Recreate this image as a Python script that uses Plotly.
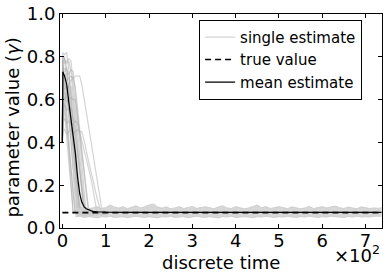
import plotly.graph_objects as go

# ---------------- data ----------------
T_EARLY = [0, 1, 5, 10, 15, 20, 25, 30, 35, 40, 45, 50, 55, 60, 65, 70, 80, 90, 100]

SINGLE_RUNS = [
    [0.40, 0.82, 0.81, 0.82, 0.74, 0.61, 0.47, 0.34, 0.20, 0.07, 0.08, 0.06, 0.07, 0.08, 0.07, 0.06, 0.08, 0.07, 0.07],
    [0.40, 0.80, 0.80, 0.66, 0.53, 0.39, 0.26, 0.12, 0.07, 0.06, 0.08, 0.07, 0.07, 0.06, 0.08, 0.07, 0.07, 0.06, 0.08],
    [0.40, 0.78, 0.79, 0.77, 0.78, 0.73, 0.61, 0.50, 0.38, 0.27, 0.15, 0.07, 0.08, 0.06, 0.07, 0.07, 0.08, 0.07, 0.06],
    [0.40, 0.76, 0.68, 0.55, 0.42, 0.28, 0.15, 0.07, 0.06, 0.08, 0.07, 0.07, 0.06, 0.08, 0.07, 0.07, 0.06, 0.08, 0.07],
    [0.40, 0.75, 0.74, 0.75, 0.63, 0.51, 0.39, 0.26, 0.14, 0.07, 0.06, 0.08, 0.07, 0.07, 0.06, 0.08, 0.07, 0.07, 0.08],
    [0.40, 0.74, 0.73, 0.74, 0.72, 0.74, 0.73, 0.63, 0.52, 0.41, 0.30, 0.18, 0.07, 0.08, 0.06, 0.07, 0.07, 0.08, 0.07],
    [0.40, 0.72, 0.71, 0.72, 0.72, 0.61, 0.50, 0.40, 0.29, 0.18, 0.07, 0.08, 0.06, 0.07, 0.07, 0.08, 0.07, 0.06, 0.07],
    [0.40, 0.70, 0.64, 0.50, 0.36, 0.21, 0.07, 0.08, 0.07, 0.06, 0.07, 0.08, 0.07, 0.07, 0.06, 0.08, 0.07, 0.07, 0.06],
    [0.40, 0.70, 0.71, 0.69, 0.70, 0.71, 0.70, 0.66, 0.56, 0.47, 0.37, 0.27, 0.17, 0.07, 0.08, 0.06, 0.07, 0.08, 0.07],
    [0.40, 0.68, 0.69, 0.63, 0.52, 0.41, 0.30, 0.18, 0.07, 0.08, 0.07, 0.06, 0.07, 0.08, 0.07, 0.07, 0.06, 0.08, 0.07],
    [0.40, 0.66, 0.67, 0.65, 0.66, 0.66, 0.56, 0.46, 0.37, 0.27, 0.17, 0.07, 0.08, 0.07, 0.06, 0.07, 0.08, 0.07, 0.07],
    [0.40, 0.64, 0.54, 0.42, 0.30, 0.17, 0.07, 0.08, 0.06, 0.07, 0.07, 0.08, 0.07, 0.06, 0.07, 0.08, 0.07, 0.07, 0.06],
    [0.40, 0.62, 0.63, 0.61, 0.57, 0.47, 0.38, 0.29, 0.20, 0.11, 0.07, 0.06, 0.08, 0.07, 0.07, 0.06, 0.08, 0.07, 0.07],
    [0.40, 0.60, 0.61, 0.59, 0.60, 0.61, 0.60, 0.60, 0.52, 0.43, 0.35, 0.27, 0.19, 0.10, 0.07, 0.08, 0.07, 0.06, 0.07],
    [0.40, 0.58, 0.58, 0.48, 0.38, 0.27, 0.17, 0.07, 0.08, 0.07, 0.06, 0.07, 0.08, 0.07, 0.07, 0.06, 0.07, 0.08, 0.07],
    [0.40, 0.56, 0.57, 0.55, 0.56, 0.56, 0.51, 0.43, 0.35, 0.27, 0.19, 0.10, 0.07, 0.08, 0.06, 0.07, 0.07, 0.08, 0.07],
    [0.40, 0.55, 0.60, 0.64, 0.67, 0.69, 0.70, 0.71, 0.71, 0.71, 0.67, 0.61, 0.55, 0.48, 0.42, 0.36, 0.23, 0.10, 0.07],
    [0.40, 0.50, 0.51, 0.49, 0.50, 0.48, 0.49, 0.50, 0.49, 0.45, 0.41, 0.36, 0.32, 0.28, 0.24, 0.19, 0.07, 0.08, 0.07],
    [0.40, 0.45, 0.46, 0.44, 0.45, 0.46, 0.44, 0.45, 0.46, 0.45, 0.45, 0.41, 0.36, 0.32, 0.27, 0.23, 0.14, 0.07, 0.07],
    [0.40, 0.80, 0.79, 0.75, 0.62, 0.49, 0.36, 0.23, 0.10, 0.07, 0.06, 0.08, 0.07, 0.07, 0.08, 0.06, 0.07, 0.07, 0.08],
    [0.40, 0.78, 0.77, 0.78, 0.79, 0.78, 0.67, 0.56, 0.45, 0.34, 0.23, 0.12, 0.07, 0.06, 0.07, 0.08, 0.07, 0.07, 0.06],
    [0.40, 0.66, 0.65, 0.66, 0.66, 0.54, 0.42, 0.31, 0.19, 0.07, 0.08, 0.07, 0.06, 0.07, 0.07, 0.08, 0.07, 0.06, 0.07],
]

TAIL_T = list(range(30, 731, 10)) + [737]
TAIL_UPPER = [
    0.095, 0.092, 0.098, 0.090, 0.094, 0.100, 0.091, 0.095, 0.108, 0.098,
    0.093, 0.100, 0.090, 0.097, 0.104, 0.094, 0.099, 0.108, 0.112, 0.098,
    0.093, 0.099, 0.090, 0.094, 0.100, 0.091, 0.095, 0.101, 0.092, 0.094,
    0.099, 0.095, 0.090, 0.098, 0.104, 0.094, 0.091, 0.100, 0.095, 0.090,
    0.094, 0.099, 0.107, 0.095, 0.100, 0.091, 0.094, 0.100, 0.095, 0.091,
    0.099, 0.095, 0.090, 0.094, 0.101, 0.091, 0.095, 0.100, 0.094, 0.099,
    0.103, 0.095, 0.091, 0.098, 0.094, 0.090, 0.099, 0.095, 0.091, 0.094,
    0.092, 0.095,
]
TAIL_LOWER = [
    0.052, 0.055, 0.049, 0.053, 0.051, 0.047, 0.053, 0.051, 0.055, 0.049,
    0.051, 0.053, 0.048, 0.051, 0.055, 0.051, 0.049, 0.053, 0.051, 0.047,
    0.053, 0.051, 0.055, 0.049, 0.051, 0.053, 0.048, 0.051, 0.055, 0.051,
    0.049, 0.053, 0.051, 0.047, 0.053, 0.051, 0.055, 0.049, 0.051, 0.053,
    0.051, 0.048, 0.053, 0.051, 0.055, 0.051, 0.049, 0.053, 0.051, 0.054,
    0.051, 0.049, 0.053, 0.051, 0.055, 0.051, 0.049, 0.053, 0.051, 0.055,
    0.053, 0.051, 0.049, 0.054, 0.051, 0.055, 0.051, 0.053, 0.051, 0.055,
    0.053, 0.055,
]

MEAN_T = [0, 1, 5, 10, 15, 20, 25, 30, 35, 40, 45, 50, 55, 60, 65, 70, 80, 90, 100,
          150, 200, 300, 400, 500, 600, 700, 737]
MEAN_V = [0.40, 0.73, 0.71, 0.67, 0.585, 0.51, 0.43, 0.35, 0.24, 0.16, 0.12, 0.10,
          0.09, 0.085, 0.081, 0.078, 0.076, 0.075, 0.074, 0.073, 0.073, 0.073,
          0.073, 0.073, 0.073, 0.073, 0.073]

TRUE_T = [0, 737]
TRUE_V = [0.072, 0.072]

X_TICKS = [0, 100, 200, 300, 400, 500, 600, 700]
X_TICK_TEXT = ["0", "1", "2", "3", "4", "5", "6", "7"]
Y_TICKS = [0.0, 0.2, 0.4, 0.6, 0.8, 1.0]
Y_TICK_TEXT = ["0.0", "0.2", "0.4", "0.6", "0.8", "1.0"]

# ---------------- figure ----------------
FONT = "DejaVu Sans"
GRAY = "rgba(170,170,170,0.5)"

fig = go.Figure()

for i, run in enumerate(SINGLE_RUNS):
    fig.add_trace(go.Scatter(
        x=T_EARLY, y=run, mode="lines",
        line=dict(color=GRAY, width=1.2),
        name="single estimate", showlegend=(i == 0), legendgroup="a",
        hoverinfo="skip"))

fig.add_trace(go.Scatter(
    x=TAIL_T, y=TAIL_LOWER, mode="lines",
    line=dict(color="rgba(200,200,200,0.8)", width=1),
    showlegend=False, hoverinfo="skip"))
fig.add_trace(go.Scatter(
    x=TAIL_T, y=TAIL_UPPER, mode="lines", fill="tonexty",
    fillcolor="rgba(208,208,208,0.85)",
    line=dict(color="rgba(200,200,200,0.8)", width=1),
    showlegend=False, hoverinfo="skip"))

fig.add_trace(go.Scatter(
    x=TRUE_T, y=TRUE_V, mode="lines",
    line=dict(color="black", width=1.6, dash="6px,4px"),
    name="true value", legendgroup="b"))

fig.add_trace(go.Scatter(
    x=MEAN_T, y=MEAN_V, mode="lines",
    line=dict(color="black", width=1.2),
    name="mean estimate", legendgroup="c"))

axis_common = dict(
    showline=True, linecolor="black", linewidth=1, mirror="allticks",
    ticks="inside", ticklen=4, tickcolor="black", tickwidth=1,
    showgrid=False, zeroline=False, automargin=False,
    tickfont=dict(family=FONT, size=18, color="black"),
)

fig.update_xaxes(range=[-5.5, 738], tickvals=X_TICKS, ticktext=X_TICK_TEXT,
                 ticklabelstandoff=-4, **axis_common)
fig.update_yaxes(range=[0, 1], tickvals=Y_TICKS, ticktext=Y_TICK_TEXT, **axis_common)

fig.add_annotation(
    xref="paper", yref="paper", x=0.5, y=-0.162, xanchor="center", yanchor="middle",
    text="discrete time", showarrow=False,
    font=dict(family=FONT, size=18, color="black"))
fig.add_annotation(
    xref="paper", yref="paper", x=-0.146, y=0.469, xanchor="center", yanchor="middle",
    text="parameter value (<i>γ</i>)", textangle=-90, showarrow=False,
    font=dict(family=FONT, size=18, color="black"))
fig.add_annotation(
    xref="paper", yref="paper", x=1.0, y=-0.058, xanchor="right", yanchor="top",
    text="×10<sup>2</sup>", showarrow=False,
    font=dict(family=FONT, size=18, color="black"))

fig.update_layout(
    width=388, height=277,
    margin=dict(l=60, r=6, t=14, b=49),
    paper_bgcolor="white", plot_bgcolor="white",
    font=dict(family=FONT, color="black"),
    legend=dict(
        x=0.432, y=0.973, xanchor="left", yanchor="top",
        bgcolor="white", bordercolor="black", borderwidth=1,
        font=dict(family=FONT, size=15, color="black"),
        itemwidth=30, traceorder="grouped", tracegroupgap=0),
)

fig.write_html("out.html", config={"displayModeBar": False},
               post_script="document.body.style.margin='0px';")
